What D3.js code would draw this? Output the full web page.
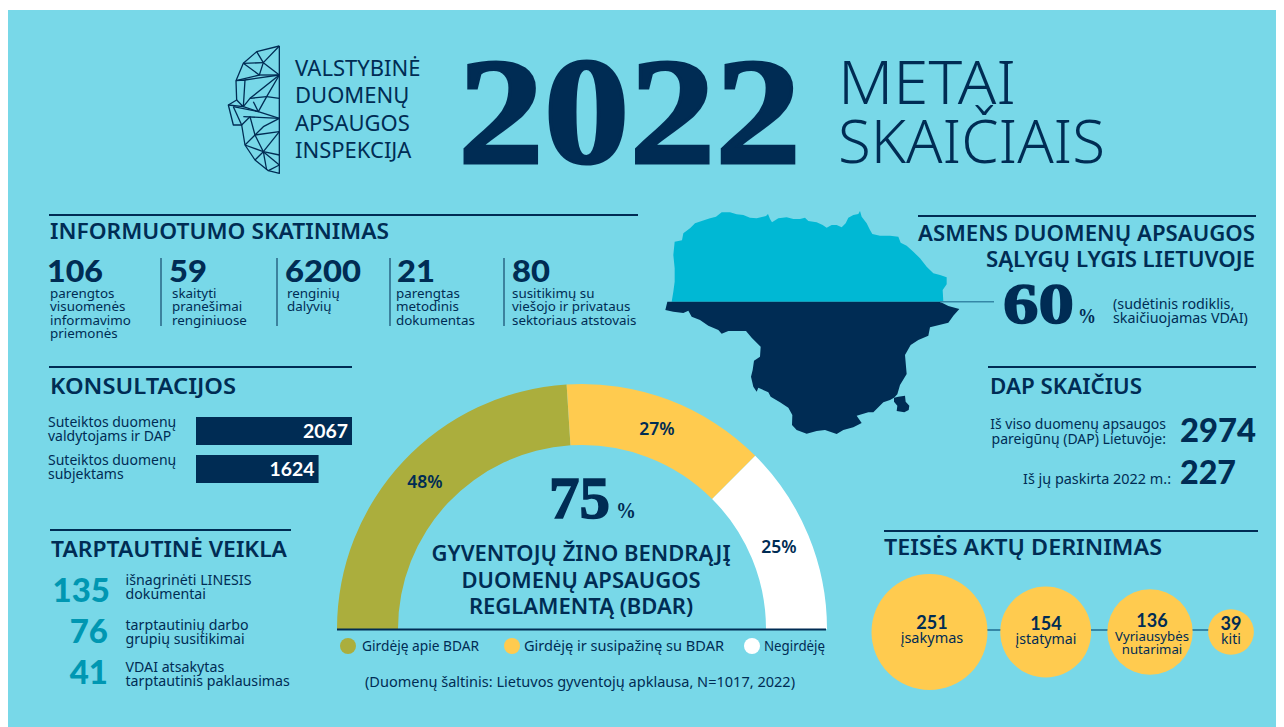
<!DOCTYPE html>
<html><head><meta charset="utf-8">
<script src="https://cdnjs.cloudflare.com/ajax/libs/d3/7.8.5/d3.min.js"></script>
<style>html,body{margin:0;padding:0;background:#fff;overflow:hidden}svg{display:block}</style>
</head><body><svg id="c" width="1284" height="727"></svg>
<script>
const awarenessValues=["106","59","6200","21","80"];
const awarenessLabels=[["parengtos","visuomenės","informavimo","priemonės"],["skaityti","pranešimai","renginiuose"],["renginių","dalyvių"],["parengtas","metodinis","dokumentas"],["susitikimų su","viešojo ir privataus","sektoriaus atstovais"]];
const consultValues=[2067,1624];
const consultLabels=[["Suteiktos duomenų","valdytojams ir DAP"],["Suteiktos duomenų","subjektams"]];
const intlValues=["135","76","41"];
const intlLabels=[["išnagrinėti LINESIS","dokumentai"],["tarptautinių darbo","grupių susitikimai"],["VDAI atsakytas","tarptautinis paklausimas"]];
const gaugeNames=["Girdėję apie BDAR","Girdėję ir susipažinę su BDAR","Negirdėję"];
const gaugeValues=[48,27,25];
const lawValues=[251,154,136,39];
const lawLabels=[["įsakymas"],["įstatymai"],["Vyriausybės","nutarimai"],["kiti"]];
const mapNorth=[[95,320],[100,290],[104,260],[104,220],[100,180],[104,140],[126,136],[130,115],[150,100],[165,85],[185,78],[210,70],[228,65],[245,52],[270,52],[290,58],[310,60],[330,68],[350,70],[378,63],[384,57],[390,72],[396,82],[415,70],[440,67],[460,72],[480,72],[495,68],[505,78],[530,82],[548,90],[560,98],[575,90],[590,90],[605,97],[617,85],[625,68],[640,60],[655,57],[660,48],[665,65],[680,85],[690,105],[697,117],[720,122],[750,122],[775,125],[782,143],[800,152],[820,170],[840,190],[860,215],[880,235],[900,240],[920,247],[920,268],[908,285],[910,320]];
const mapSouth=[[82,320],[76,345],[100,350],[130,354],[145,347],[155,365],[180,375],[205,392],[235,405],[245,416],[265,408],[295,408],[318,408],[335,428],[362,455],[360,485],[342,497],[338,525],[333,545],[340,575],[350,590],[355,578],[385,592],[392,605],[420,622],[445,638],[457,660],[456,690],[470,705],[500,716],[530,708],[555,705],[590,717],[610,705],[640,697],[665,684],[650,662],[685,652],[700,652],[730,622],[750,615],[762,608],[772,598],[780,570],[800,537],[795,480],[812,450],[835,435],[865,422],[870,397],[925,383],[940,362],[958,342],[925,333],[900,320]];
const mapIsland=[[762,608],[775,605],[795,602],[797,620],[808,632],[806,645],[793,652],[770,648],[772,632],[762,620]];
const logoLines=[[[238,78],[170,95],[130,130],[108,182],[110,240],[85,255],[100,315],[125,315],[135,375],[165,420],[205,452],[238,460],[238,78]],[[170,95],[190,128],[238,78]],[[190,128],[238,165]],[[130,130],[178,165],[190,128]],[[130,130],[190,128]],[[178,165],[238,165]],[[108,182],[178,165]],[[108,182],[135,180],[130,260]],[[135,180],[238,165]],[[110,240],[130,260],[85,255]],[[238,165],[150,235],[130,260]],[[238,165],[200,230],[238,235]],[[150,235],[200,230]],[[130,260],[175,275],[200,230]],[[175,275],[238,295]],[[175,275],[160,245]],[[100,260],[175,275]],[[100,260],[125,315]],[[125,315],[150,290],[165,345]],[[130,290],[238,295]],[[165,345],[238,335]],[[165,345],[190,320],[238,295]],[[135,375],[165,345],[190,395],[238,405]],[[135,375],[190,395]],[[190,395],[165,420]],[[190,395],[200,450]],[[238,435],[205,452]],[[238,435],[190,395]],[[238,335],[190,395]]];

const NAVY="#002c54",BG="#78d8e8",TEAL="#00b8d4",NUM="#0097b2",OLIVE="#abae3d",YEL="#ffcb4f",LINE="#3587a6";
const BODY="'Noto Sans', sans-serif", NUMF="Lato, sans-serif", HEAD="'Noto Sans', Lato, sans-serif", SERIF="'Liberation Serif', serif";
const svg=d3.select("#c");
svg.append("rect").attr("x",8).attr("y",10).attr("width",1268).attr("height",717).attr("fill",BG);

function txt(x,y,s,o={}){
  const t=svg.append("text").attr("x",x).attr("y",y).text(s)
   .attr("font-family",o.family||BODY).attr("font-size",o.size||14).attr("font-weight",o.weight||400)
   .attr("fill",o.fill||NAVY).attr("text-anchor",o.anchor||"start");
  if(o.w){t.attr("textLength",o.w).attr("lengthAdjust","spacingAndGlyphs");}
  if(o.stroke){t.attr("stroke",o.fill||NAVY).attr("stroke-width",o.stroke);}
  return t;
}
function block(x,y,lines,lh,o={}){
  const t=svg.append("text").attr("font-family",o.family||BODY).attr("font-size",o.size||14).attr("font-weight",o.weight||400)
   .attr("fill",o.fill||NAVY).attr("text-anchor",o.anchor||"start");
  t.selectAll("tspan").data(lines).join("tspan").attr("x",x).attr("y",(d,i)=>y+i*lh).text(d=>d);
  return t;
}
function rule(x1,x2,y){svg.append("line").attr("x1",x1).attr("x2",x2).attr("y1",y).attr("y2",y).attr("stroke",NAVY).attr("stroke-width",2);}

// logo
const lx=d3.scaleLinear().domain([0,720]).range([200,440]), ly=d3.scaleLinear().domain([0,510]).range([20,190]);
const logoGen=d3.line().x(d=>lx(d[0])).y(d=>ly(d[1]));
svg.append("g").selectAll("path").data(logoLines).join("path").attr("d",logoGen).attr("fill","none").attr("stroke",NAVY).attr("stroke-width",1.3).attr("stroke-linejoin","round");
block(295,76,["VALSTYBINĖ","DUOMENŲ","APSAUGOS","INSPEKCIJA"],27.4,{size:22,family:HEAD});
txt(458,163,"2022",{family:SERIF,size:152,weight:700,w:343,stroke:3});
txt(838,104,"METAI",{size:61,w:178,family:HEAD,weight:300});
txt(838,163,"SKAIČIAIS",{size:61,w:267,family:HEAD,weight:300});

// map
const mx=d3.scaleLinear().domain([0,1020]).range([640,980]), my=d3.scaleLinear().domain([0,750]).range([195,445]);
const mapGen=d3.line().x(d=>mx(d[0])).y(d=>my(d[1])).curve(d3.curveLinearClosed);
svg.append("path").attr("d",mapGen(mapNorth)).attr("fill",TEAL);
svg.append("path").attr("d",mapGen(mapSouth)).attr("fill",NAVY);
svg.append("path").attr("d",mapGen(mapIsland)).attr("fill",NAVY);
svg.append("line").attr("x1",940).attr("x2",994).attr("y1",301.7).attr("y2",301.7).attr("stroke",LINE).attr("stroke-width",1.5);

// awareness
rule(49,638,215);
txt(50,239,"INFORMUOTUMO SKATINIMAS",{size:22,w:339,family:HEAD,weight:600});
const awX=[47,169,285,397,512], awW=[56,38,76,38,38], awL=[50,172,287,396,512], divX=[161,277,390,504];
awarenessValues.forEach((v,i)=>{
  txt(awX[i],282,v,{size:30,weight:900,w:awW[i],family:NUMF});
  block(awL[i],298,awarenessLabels[i],13.4,{size:13.4});
});
divX.forEach(x=>svg.append("line").attr("x1",x).attr("x2",x).attr("y1",258).attr("y2",326).attr("stroke",NAVY).attr("stroke-width",1));

// consultations
rule(49,352,367);
txt(50,394,"KONSULTACIJOS",{size:22,w:186,family:HEAD,weight:600});
const bx=d3.scaleLinear().domain([0,2067]).range([196,352]);
const barY=[417,455];
consultValues.forEach((v,i)=>{
  svg.append("rect").attr("x",bx(0)).attr("y",barY[i]).attr("width",bx(v)-bx(0)).attr("height",28).attr("fill",NAVY);
  txt(bx(v)-4,barY[i]+21,d3.format("d")(v),{size:19,weight:700,fill:"#fff",anchor:"end",w:45,family:NUMF});
  block(48,barY[i]+10,consultLabels[i],14,{size:14});
});

// international
rule(50,291,530);
txt(51,557,"TARPTAUTINĖ VEIKLA",{size:22,w:236,family:HEAD,weight:600});
const inX=[110,108,108], inY=[602,643,684];
intlValues.forEach((v,i)=>{
  txt(inX[i],inY[i],v,{size:33,weight:900,fill:NUM,anchor:"end",family:NUMF});
  block(125.5,[585,630,672][i],intlLabels[i],14,{size:14.2});
});

// gauge
const gc={x:582,y:629}, gaugeColors=[OLIVE,YEL,"#fff"];
const pie=d3.pie().sort(null).startAngle(-Math.PI/2).endAngle(Math.PI/2);
const arc=d3.arc().innerRadius(184).outerRadius(245);
const gg=svg.append("g").attr("transform",`translate(${gc.x},${gc.y})`);
gg.selectAll("path").data(pie(gaugeValues)).join("path").attr("d",arc).attr("fill",(d,i)=>gaugeColors[i]);
const pctPos=[[425,488],[657,435],[779,553]];
gaugeValues.forEach((v,i)=>txt(pctPos[i][0],pctPos[i][1],v+"%",{size:17.5,weight:600,anchor:"middle"}));
svg.append("line").attr("x1",337).attr("x2",826).attr("y1",629.5).attr("y2",629.5).attr("stroke",NAVY).attr("stroke-width",2);
txt(549,518,"75",{family:SERIF,size:60,weight:700,w:61,stroke:1.5});
txt(616,518,"%",{family:SERIF,size:24,weight:700,w:20});
block(581,561,["GYVENTOJŲ ŽINO BENDRĄJĮ","DUOMENŲ APSAUGOS","REGLAMENTĄ (BDAR)"],26.5,{size:22,anchor:"middle",family:HEAD,weight:600});
const legDot=[348,512,752], legText=[362,524,764], legW=[117,200,61];
gaugeNames.forEach((n,i)=>{
  svg.append("circle").attr("cx",legDot[i]).attr("cy",646).attr("r",8).attr("fill",gaugeColors[i]);
  txt(legText[i],651,n,{size:13.5,w:legW[i]});
});
txt(365,687,"(Duomenų šaltinis: Lietuvos gyventojų apklausa, N=1017, 2022)",{size:13.5,w:430});

// right top
rule(918,1256,216);
block(1255,241,["ASMENS DUOMENŲ APSAUGOS","SĄLYGŲ LYGIS LIETUVOJE"],26,{size:22.2,anchor:"end",family:HEAD,weight:600});
txt(1003,323,"60",{family:SERIF,size:56,weight:700,w:71,stroke:1.5});
txt(1078,323,"%",{family:SERIF,size:22,weight:700,w:18});
block(1113,309,["(sudėtinis rodiklis,","skaičiuojamas VDAI)"],14,{size:14.3});

// DAP
rule(988,1256,367);
txt(990,394,"DAP SKAIČIUS",{size:22,w:152,family:HEAD,weight:600});
block(1166,429,["Iš viso duomenų apsaugos","pareigūnų (DAP) Lietuvoje:"],15,{size:14,anchor:"end"});
txt(1180,442,"2974",{size:32,weight:900,w:76,family:NUMF});
txt(1171,484,"Iš jų paskirta 2022 m.:",{size:13.5,anchor:"end",w:148});
txt(1180,484,"227",{size:32,weight:900,w:56,family:NUMF});

// law
rule(884,1258,531);
txt(884,555,"TEISĖS AKTŲ DERINIMAS",{size:22,w:278,family:HEAD,weight:600});
const r=d3.scaleSqrt().domain([0,251]).range([0,58]);
const lawX=[929.5,1045.7,1150,1231], lawNum=[932,1046,1152,1231], lawY=[629,630,627,630], lawSize=[14.5,14.2,13.2,14];
svg.append("line").attr("x1",lawX[0]).attr("x2",lawX[3]).attr("y1",630).attr("y2",630).attr("stroke",LINE).attr("stroke-width",2);
svg.append("g").selectAll("circle").data(lawValues).join("circle").attr("cx",(d,i)=>lawX[i]).attr("cy",632).attr("r",d=>r(d)).attr("fill",YEL);
lawValues.forEach((v,i)=>{
  txt(lawNum[i],lawY[i],v,{size:18,weight:700,anchor:"middle",family:NUMF});
  block(lawNum[i],lawY[i]+14,lawLabels[i],13,{size:lawSize[i],anchor:"middle"});
});
</script></body></html>
